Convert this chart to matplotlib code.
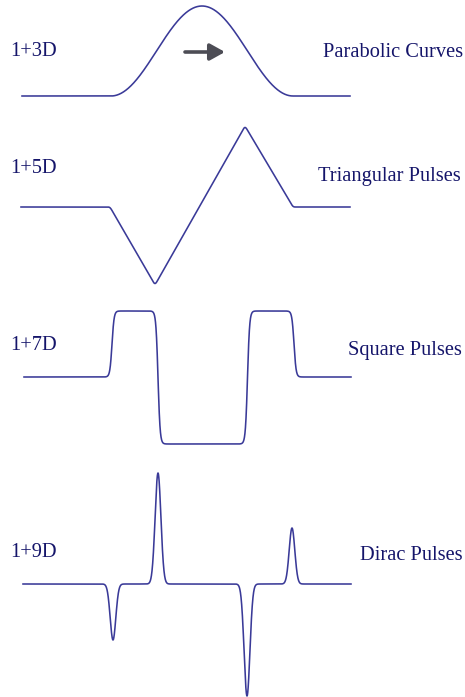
import numpy as np
import matplotlib
matplotlib.use("Agg")
import matplotlib.pyplot as plt

# ---------------- data (pixel-space units, y grows downward) ----------------
left_labels = ["1+3D", "1+5D", "1+7D", "1+9D"]
right_labels = ["Parabolic Curves", "Triangular Pulses", "Square Pulses", "Dirac Pulses"]
left_label_y = [56, 173, 350, 557]     # text baselines
right_label_y = [57, 181, 355, 560]
right_label_x = [463, 461, 462, 463]

baselines = [96, 207, 377, 584]
line_start = [22, 21, 24, 23]
line_end = [350, 350, 351, 351]

# Panel 1: raised-cosine bump
bump_center = 202
bump_halfwidth = 91
bump_height = 90

# Panel 2: triangular pulses (vertex x, height above baseline)
tri_x = [21, 110, 155, 245, 293, 350]
tri_h = [0, 0, -78, 81, 0, 0]

# Panel 3: square pulses (edge positions, level changes)
sq_edges = [112, 158, 247.5, 294]
sq_steps = [66, -133, 133, -66]
sq_edge_scale = 2.1

# Panel 4: Dirac-like pulses
dirac_pos = [113, 158, 247, 292]
dirac_amp = [-56, 111, -112, 56]
dirac_sigma = [2.8, 2.9, 2.9, 2.8]

# arrow
arrow_from = (185, 52)
arrow_to = (225, 52)

line_color = "#3a3a98"
text_color = "#15156a"

# ---------------- figure ----------------
W, H = 465, 697
fig = plt.figure(figsize=(W / 100, H / 100), dpi=100)
ax = fig.add_axes([0, 0, 1, 1])
ax.set_xlim(0, W)
ax.set_ylim(H, 0)
ax.axis("off")

font = dict(family=["Liberation Serif", "DejaVu Serif"], fontsize=14.7, color=text_color)

# Panel 1
x = np.linspace(line_start[0], line_end[0], 2000)
d = np.clip((x - bump_center) / bump_halfwidth, -1, 1)
y = bump_height * (1 + np.cos(np.pi * d)) / 2
ax.plot(x, baselines[0] - y, color=line_color, lw=1.15)

# Panel 2
x = np.linspace(line_start[1], line_end[1], 4000)
y = np.interp(x, tri_x, tri_h)
k = 71
kern = np.hanning(k); kern /= kern.sum()
ypad = np.pad(y, k, mode="edge")
y = np.convolve(ypad, kern, mode="same")[k:-k]
ax.plot(x, baselines[1] - y, color=line_color, lw=1.15)

# Panel 3
x = np.linspace(line_start[2], line_end[2], 4000)
y = np.zeros_like(x)
for e, s in zip(sq_edges, sq_steps):
    y += s * (1 + np.tanh((x - e) / sq_edge_scale)) / 2
ax.plot(x, baselines[2] - y, color=line_color, lw=1.15)

# Panel 4
x = np.linspace(line_start[3], line_end[3], 4000)
y = np.zeros_like(x)
for p, a, s in zip(dirac_pos, dirac_amp, dirac_sigma):
    y += a * np.exp(-0.5 * ((x - p) / s) ** 2)
ax.plot(x, baselines[3] - y, color=line_color, lw=1.15)

# arrow
ax.annotate("", xy=arrow_to, xytext=arrow_from,
            arrowprops=dict(arrowstyle="-|>,head_length=0.9,head_width=0.5",
                            color="#4d4d55", lw=2.6, shrinkA=0, shrinkB=0))

for i in range(4):
    ax.text(10, left_label_y[i], left_labels[i], ha="left", va="baseline", **font)
    ax.text(right_label_x[i], right_label_y[i], right_labels[i], ha="right", va="baseline", **font)

fig.savefig("out.png", dpi=100, facecolor="white")
